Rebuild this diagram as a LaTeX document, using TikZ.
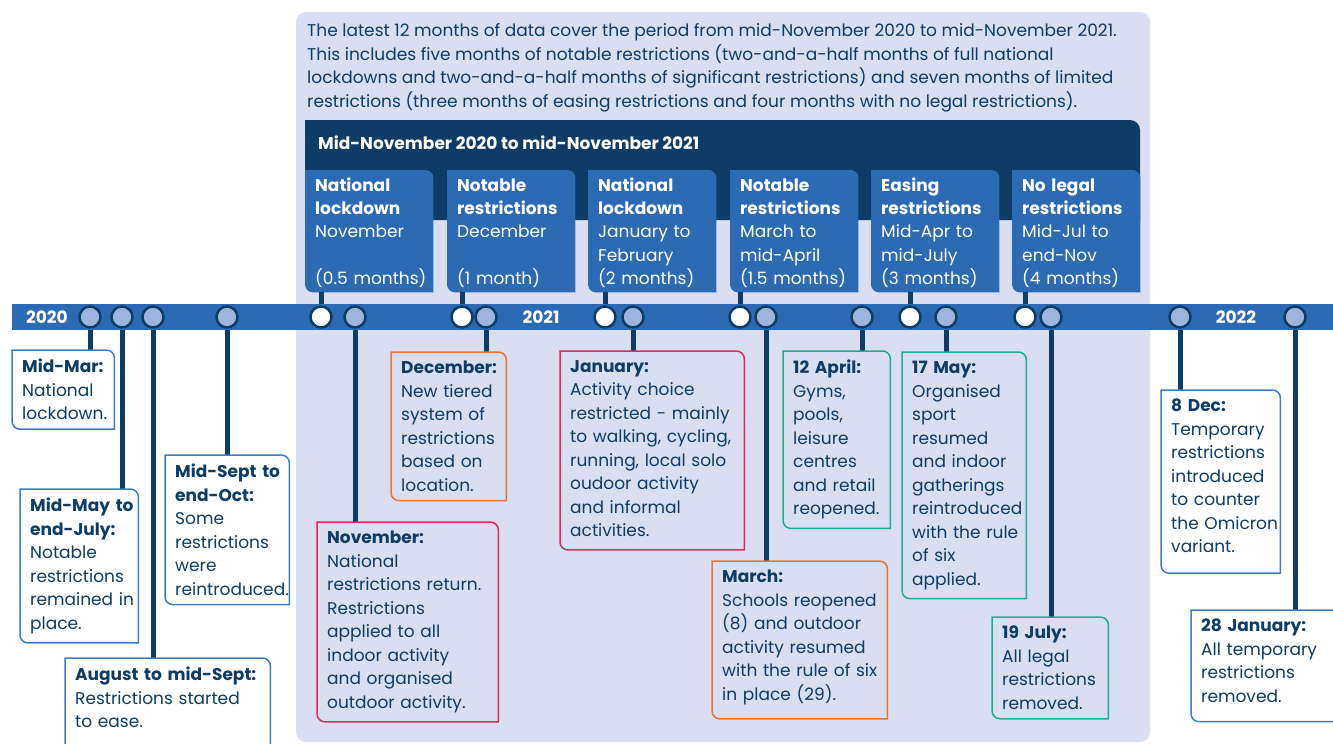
\documentclass[tikz,border=0pt]{standalone}
\usepackage{fontspec}
\setmainfont{Poppins}
\usepackage{xcolor}
\usetikzlibrary{positioning}

\definecolor{navy}{HTML}{0D3C66}
\definecolor{barblue}{HTML}{2C6BB3}
\definecolor{bgshade}{HTML}{D9DEF1}
\definecolor{dotblue}{HTML}{9EB4DD}
\definecolor{evblue}{HTML}{3E7CC4}
\definecolor{evorange}{HTML}{EE7430}
\definecolor{evred}{HTML}{E0285A}
\definecolor{evgreen}{HTML}{1BAF8C}

\pgfdeclarelayer{back}
\pgfdeclarelayer{mid}
\pgfsetlayers{back,mid,main}

% box with rounded top-right and bottom-left corners
\newcommand\leafshape[1]{(#1.south east) -- ([yshift=-8pt]#1.north east)
  arc[start angle=0,end angle=90,radius=8pt] -- (#1.north west)
  -- ([yshift=8pt]#1.south west) arc[start angle=180,end angle=270,radius=8pt] -- cycle}

\tikzset{
  txt/.style={font=\fontsize{17}{23.5}\selectfont, text=navy},
  event/.style={txt, anchor=north west, align=left, inner xsep=1pt, inner ysep=9pt,
    execute at begin node={\leftskip=9pt\hyphenpenalty=10000}},
  period/.style={font=\fontsize{17}{23.25}\selectfont, text=white, anchor=north west,
    align=left, text width=126pt, minimum height=122pt, inner xsep=1pt, inner ysep=0pt,
    execute at begin node={\leftskip=9pt\hyphenpenalty=10000}},
  dot/.style={circle, draw=navy, line width=2.5pt, fill=dotblue, minimum size=21pt, inner sep=0pt},
  opendot/.style={dot, fill=white},
  stem/.style={navy, line width=5pt},
  year/.style={font=\bfseries\fontsize{17}{20}\selectfont, text=white},
  outline/.style={line width=1.5pt}
}

\begin{document}
\begin{tikzpicture}[x=1pt,y=1pt]
\useasboundingbox (0,0) rectangle (1333,-744);

\begin{pgfonlayer}{back}
  \fill[bgshade, rounded corners=10pt] (296,-12) rectangle (1150,-742);
  \fill[navy] (305,-220) -- (305,-120) -- (1130,-120)
    arc[start angle=90,end angle=0,radius=10pt] -- (1140,-220) -- cycle;
\end{pgfonlayer}

% intro text
\node[txt, anchor=north west, align=left, inner sep=0pt] (intro) at (307,-23.5)
  {The latest 12 months of data cover the period from mid-November 2020 to mid-November 2021.\\
   This includes five months of notable restrictions (two-and-a-half months of full national\\
   lockdowns and two-and-a-half months of significant restrictions) and seven months of limited\\
   restrictions (three months of easing restrictions and four months with no legal restrictions).};

\node[font=\bfseries\fontsize{17}{20}\selectfont, text=white, anchor=west, inner sep=0pt] (band) at (318,-143)
  {Mid-November 2020 to mid-November 2021};

% period boxes
\foreach \i/\x/\ta/\tb/\tc/\td/\te in {
    1/305/National/lockdown/November/\mbox{}/(0.5 months),
    2/447/Notable/restrictions/December/\mbox{}/(1 month),
    3/588/National/lockdown/January to/February/(2 months),
    4/730/Notable/restrictions/March to/mid-April/(1.5 months),
    5/871/Easing/restrictions/Mid-Apr to/mid-July/(3 months),
    6/1012/No legal/restrictions/Mid-Jul to/end-Nov/(4 months)}
  \node[period] (h\i) at (\x,-170) {\rule{0pt}{16.5pt}\textbf{\ta}\\\textbf{\tb}\\\tc\\\td\\\te};

\begin{pgfonlayer}{mid}
  \foreach \i in {1,...,6}
    \fill[barblue] \leafshape{h\i};
\end{pgfonlayer}

% timeline bar
\fill[barblue] (12,-304) rectangle (1333,-330);
\node[year] (y2020) at (47,-317) {2020};
\node[year] (y2021) at (541,-317) {2021};
\node[year] (y2022) at (1236,-317) {2022};

\foreach \i/\x in {1/321,2/462,3/605,4/740,5/910,6/1025}
  \node[opendot] (w\i) at (\x,-317) {};
\foreach \i/\x in {1/90,2/122,3/153,4/227,5/355,6/486,7/633,8/766,9/862,10/946,11/1051,12/1180,13/1295}
  \node[dot] (d\i) at (\x,-317) {};

% event boxes
\node[event, text width=100pt] (mar) at (12,-350)
  {\textbf{Mid-Mar:}\\National\\lockdown.};
\node[event, text width=116pt] (may) at (20,-489)
  {\textbf{Mid-May to}\\\textbf{end-July:}\\Notable\\restrictions\\remained in\\place.};
\node[event, text width=203pt] (aug) at (65,-658)
  {\textbf{August to mid-Sept:}\\Restrictions started\\to ease.\par\vspace*{30pt}};
\node[event, text width=122pt] (sep) at (165,-455)
  {\textbf{Mid-Sept to}\\\textbf{end-Oct:}\\Some\\restrictions\\were\\reintroduced.};
\node[event, text width=179pt] (nov) at (317,-522)
  {\textbf{November:}\\National\\restrictions return.\\Restrictions\\applied to all\\indoor activity\\and organised\\outdoor activity.};
\node[event, text width=113pt] (dec) at (391,-352)
  {\textbf{December:}\\New tiered\\system of\\restrictions\\based on\\location.};
\node[event, text width=182pt] (jan) at (560,-351)
  {\textbf{January:}\\Activity choice\\restricted - mainly\\to walking, cycling,\\running, local solo\\oudoor activity\\and informal\\activities.\par\vspace*{4pt}};
\node[event, text width=173pt] (march) at (712,-561)
  {\textbf{March:}\\Schools reopened\\(8) and outdoor\\activity resumed\\with the rule of six\\in place (29).\par\vspace*{5pt}};
\node[event, text width=105pt] (apr) at (783,-351)
  {\textbf{12 April:}\\Gyms,\\pools,\\leisure\\centres\\and retail\\reopened.};
\node[event, text width=122pt] (sport) at (902,-352)
  {\textbf{17 May:}\\Organised\\sport\\resumed\\and indoor\\gatherings\\reintroduced\\with the rule\\of six\\applied.};
\node[event, text width=114pt] (jul) at (992,-617)
  {\textbf{19 July:}\\All legal\\restrictions\\removed.};
\node[event, text width=117pt] (omicron) at (1161,-390)
  {\textbf{8 Dec:}\\Temporary\\restrictions\\introduced\\to counter\\the Omicron\\variant.\par\vspace*{11pt}};
\node[event, text width=158pt] (lifted) at (1191,-610)
  {\textbf{28 January:}\\All temporary\\restrictions\\removed.\par\vspace*{10pt}};

\foreach \n/\c in {mar/evblue,may/evblue,aug/evblue,sep/evblue,nov/evred,dec/evorange,
    jan/evred,march/evorange,apr/evgreen,sport/evgreen,jul/evgreen,omicron/evblue,lifted/evblue}
  \draw[outline, \c] \leafshape{\n};

% stems
\begin{pgfonlayer}{mid}
  \foreach \i in {1,...,6}
    \draw[stem] (w\i |- h\i.south) -- (w\i);
  \foreach \i/\n in {1/mar,2/may,3/aug,4/sep,5/nov,6/dec,7/jan,8/march,9/apr,10/sport,11/jul,12/omicron,13/lifted}
    \draw[stem] (d\i) -- (d\i |- \n.north);
\end{pgfonlayer}
\end{tikzpicture}
\end{document}
